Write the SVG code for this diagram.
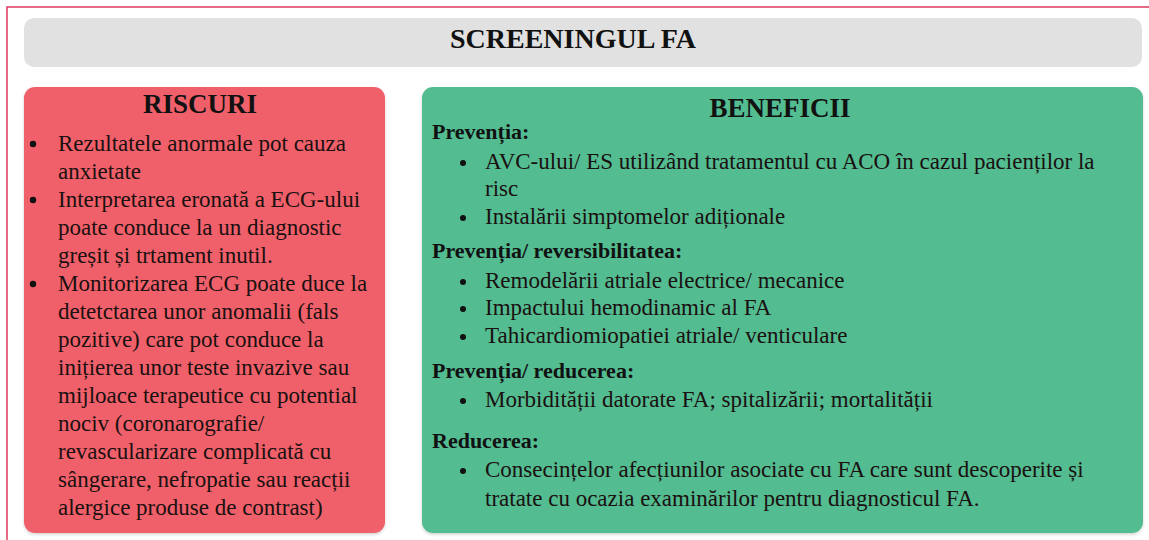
<svg xmlns="http://www.w3.org/2000/svg" width="1149" height="540" viewBox="0 0 1149 540">
<style>
.h{font-family:"Liberation Serif","Times New Roman",serif;font-weight:bold;fill:#111;}
.t{font-family:"Liberation Serif","Times New Roman",serif;font-size:23px;fill:#1a1010;}
.sub{font-family:"Liberation Serif","Times New Roman",serif;font-size:22px;font-weight:bold;fill:#111;}
.dot{fill:#111;}
</style>
<defs>
<filter id="sh" x="-5%" y="-5%" width="110%" height="110%">
<feDropShadow dx="0" dy="1.5" stdDeviation="1.5" flood-color="#000" flood-opacity="0.18"/>
</filter>
</defs>
<rect x="0" y="0" width="1149" height="540" fill="#ffffff"/>
<path d="M7 540 V7 H1149" fill="none" stroke="#dc3a5e" stroke-width="1.5"/>
<g id="title">
<rect x="24" y="18" width="1118" height="49" rx="10" fill="#e1e1e1"/>
<text class="h" x="573" y="48" font-size="28" text-anchor="middle">SCREENINGUL FA</text>
</g>
<g id="riscuri">
<rect x="24" y="87" width="361" height="446" rx="11" fill="#f0606b" filter="url(#sh)"/>
<text class="h" x="200" y="113" font-size="27" text-anchor="middle">RISCURI</text>
<circle class="dot" cx="33" cy="144" r="3.2"/>
<circle class="dot" cx="33" cy="200" r="3.2"/>
<circle class="dot" cx="33" cy="284" r="3.2"/>
<text class="t" x="58" y="151">Rezultatele anormale pot cauza</text>
<text class="t" x="58" y="179">anxietate</text>
<text class="t" x="58" y="207">Interpretarea eronată a ECG-ului</text>
<text class="t" x="58" y="235">poate conduce la un diagnostic</text>
<text class="t" x="58" y="263">greșit și trtament inutil.</text>
<text class="t" x="58" y="291">Monitorizarea ECG poate duce la</text>
<text class="t" x="58" y="319">detetctarea unor anomalii (fals</text>
<text class="t" x="58" y="347">pozitive) care pot conduce la</text>
<text class="t" x="58" y="375">inițierea unor teste invazive sau</text>
<text class="t" x="58" y="403">mijloace terapeutice cu potential</text>
<text class="t" x="58" y="431">nociv (coronarografie/</text>
<text class="t" x="58" y="459">revascularizare complicată cu</text>
<text class="t" x="58" y="487">sângerare, nefropatie sau reacții</text>
<text class="t" x="58" y="515">alergice produse de contrast)</text>
</g>
<g id="beneficii">
<rect x="422" y="87" width="721" height="446" rx="11" fill="#52bc91" filter="url(#sh)"/>
<text class="h" x="780" y="117" font-size="27" text-anchor="middle">BENEFICII</text>
<text class="sub" x="432" y="139">Prevenția:</text>
<circle class="dot" cx="463" cy="163" r="3"/>
<text class="t" x="485" y="169">AVC-ului/ ES utilizând tratamentul cu ACO în cazul pacienților la</text>
<text class="t" x="485" y="196">risc</text>
<circle class="dot" cx="463" cy="218" r="3"/>
<text class="t" x="485" y="224">Instalării simptomelor adiționale</text>
<text class="sub" x="432" y="258">Prevenția/ reversibilitatea:</text>
<circle class="dot" cx="463" cy="282" r="3"/>
<text class="t" x="485" y="288">Remodelării atriale electrice/ mecanice</text>
<circle class="dot" cx="463" cy="309" r="3"/>
<text class="t" x="485" y="315">Impactului hemodinamic al FA</text>
<circle class="dot" cx="463" cy="337" r="3"/>
<text class="t" x="485" y="343">Tahicardiomiopatiei atriale/ venticulare</text>
<text class="sub" x="432" y="378">Prevenția/ reducerea:</text>
<circle class="dot" cx="463" cy="401" r="3"/>
<text class="t" x="485" y="407">Morbidității datorate FA; spitalizării; mortalității</text>
<text class="sub" x="432" y="448">Reducerea:</text>
<circle class="dot" cx="463" cy="471" r="3"/>
<text class="t" x="485" y="477">Consecințelor afecțiunilor asociate cu FA care sunt descoperite și</text>
<text class="t" x="485" y="506">tratate cu ocazia examinărilor pentru diagnosticul FA.</text>
</g>
<g id="connectors"/>
</svg>
